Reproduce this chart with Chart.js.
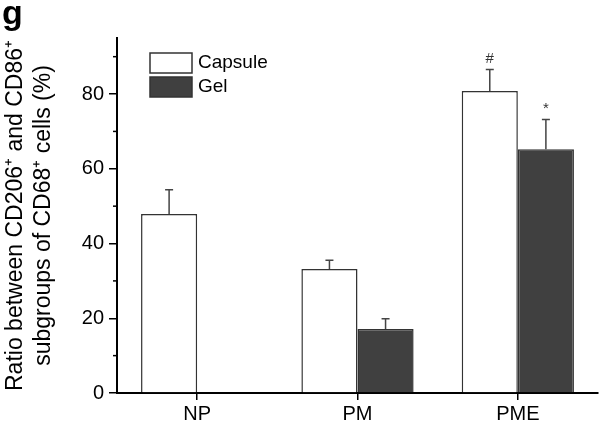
<!DOCTYPE html>
<html>
<head>
<meta charset="utf-8">
<script src="https://cdn.jsdelivr.net/npm/chart.js@4.4.0/dist/chart.umd.min.js"></script>
<style>
  html, body { margin: 0; padding: 0; background: #fff; }
  #wrap { width: 600px; height: 423px; position: relative; }
</style>
</head>
<body>
<div id="wrap"><canvas id="mycanvas" width="600" height="423"></canvas></div>
<script>
// values
var groups = ["NP", "PM", "PME"];
var capsule = [47.9, 33.2, 80.8];
var capsuleErr = [6.5, 2.3, 5.8];
var gel = [null, 17.1, 65.2];
var gelErr = [null, 2.8, 8.0];
var capsuleMarks = ["", "", "#"];
var gelMarks = ["", "", "*"];
var yTicks = [0, 20, 40, 60, 80];
var yMinor = [10, 30, 50, 70, 90];

var errs = [capsuleErr, gelErr];
var marks = [capsuleMarks, gelMarks];

Chart.defaults.font.family = "'Liberation Sans', Arial, sans-serif";
Chart.defaults.color = "#000";

var extras = {
	id: "extras",
	afterDatasetsDraw: function(chart) {
		var ctx = chart.ctx;
		var y = chart.scales.y;
		ctx.save();
		for (var d = 0; d < chart.data.datasets.length; d++) {
			var meta = chart.getDatasetMeta(d);
			var vals = chart.data.datasets[d].data;
			for (var i = 0; i < vals.length; i++) {
				if (vals[i] === null) continue;
				var el = meta.data[i];
				var top = y.getPixelForValue(vals[i] + errs[d][i]);
				ctx.strokeStyle = "#444";
				ctx.lineWidth = 1.5;
				ctx.beginPath();
				ctx.moveTo(el.x, el.y);
				ctx.lineTo(el.x, top);
				ctx.moveTo(el.x - 4, top);
				ctx.lineTo(el.x + 4, top);
				ctx.stroke();
				if (marks[d][i]) {
					ctx.fillStyle = "#333";
					ctx.font = "15px 'Liberation Sans', Arial";
					ctx.textAlign = "center";
					ctx.textBaseline = "bottom";
					ctx.fillText(marks[d][i], el.x, top - 3);
				}
			}
		}
		// minor ticks on y
		ctx.strokeStyle = "#000";
		ctx.lineWidth = 1.5;
		yMinor.forEach(function(v) {
			var py = y.getPixelForValue(v);
			ctx.beginPath();
			ctx.moveTo(y.right - 4, py);
			ctx.lineTo(y.right, py);
			ctx.stroke();
		});
		ctx.restore();
	},
	afterDraw: function(chart) {
		var ctx = chart.ctx;
		ctx.save();
		// legend
		var ds = chart.data.datasets;
		for (var k = 0; k < ds.length; k++) {
			var by = 53 + k * 24;
			ctx.fillStyle = ds[k].backgroundColor;
			ctx.fillRect(150, by, 42, 20);
			ctx.strokeStyle = "#333";
			ctx.lineWidth = 1.5;
			ctx.strokeRect(150, by, 42, 20);
			ctx.fillStyle = "#000";
			ctx.font = "19px 'Liberation Sans', Arial";
			ctx.textAlign = "left";
			ctx.textBaseline = "middle";
			ctx.fillText(ds[k].label, 198, by + 10);
		}
		// panel letter
		ctx.font = "bold 34px 'Liberation Sans', Arial";
		ctx.textBaseline = "alphabetic";
		ctx.fillText("g", 2, 24);
		ctx.restore();
	}
};

var ctx = document.getElementById("mycanvas");

var BarGraph = new Chart(ctx, {
	type: "bar",
	data: {
		labels: groups,
		datasets: [
			{
				label: "Capsule",
				data: capsule,
				backgroundColor: "#ffffff",
				borderColor: "#333333",
				borderWidth: 1.5
			},
			{
				label: "Gel",
				data: gel,
				backgroundColor: "#404040",
				borderColor: "#333333",
				borderWidth: 1.5
			}
		]
	},
	options: {
		responsive: false,
		animation: false,
		categoryPercentage: 0.7,
		barPercentage: 1.0,
		layout: { padding: { top: 38, right: 2, left: 0, bottom: 0 } },
		plugins: {
			legend: { display: false },
			tooltip: { enabled: false }
		},
		scales: {
			x: {
				grid: { offset: false, drawOnChartArea: false, tickLength: 7, color: "#000", lineWidth: 1.5 },
				border: { color: "#000", width: 2 },
				ticks: { font: { size: 20 }, color: "#000", padding: 2 },
				afterFit: function(s) { s.height = 30; }
			},
			y: {
				min: 0,
				max: 95,
				afterBuildTicks: function(s) {
					s.ticks = yTicks.map(function(v) { return { value: v }; });
				},
				grid: { drawOnChartArea: false, tickLength: 8, color: "#000", lineWidth: 1.5 },
				border: { color: "#000", width: 2 },
				ticks: { font: { size: 20 }, color: "#000", padding: 5 },
				title: {
					display: true,
					text: ["Ratio between CD206\u207A and CD86\u207A", "subgroups of CD68\u207A cells (%)"],
					font: { size: 23, lineHeight: 1.2 },
					color: "#000",
					padding: { top: 2, bottom: 0 }
				},
				afterFit: function(s) { s.width = 117; }
			}
		}
	},
	plugins: [extras]
});
</script>
</body>
</html>
